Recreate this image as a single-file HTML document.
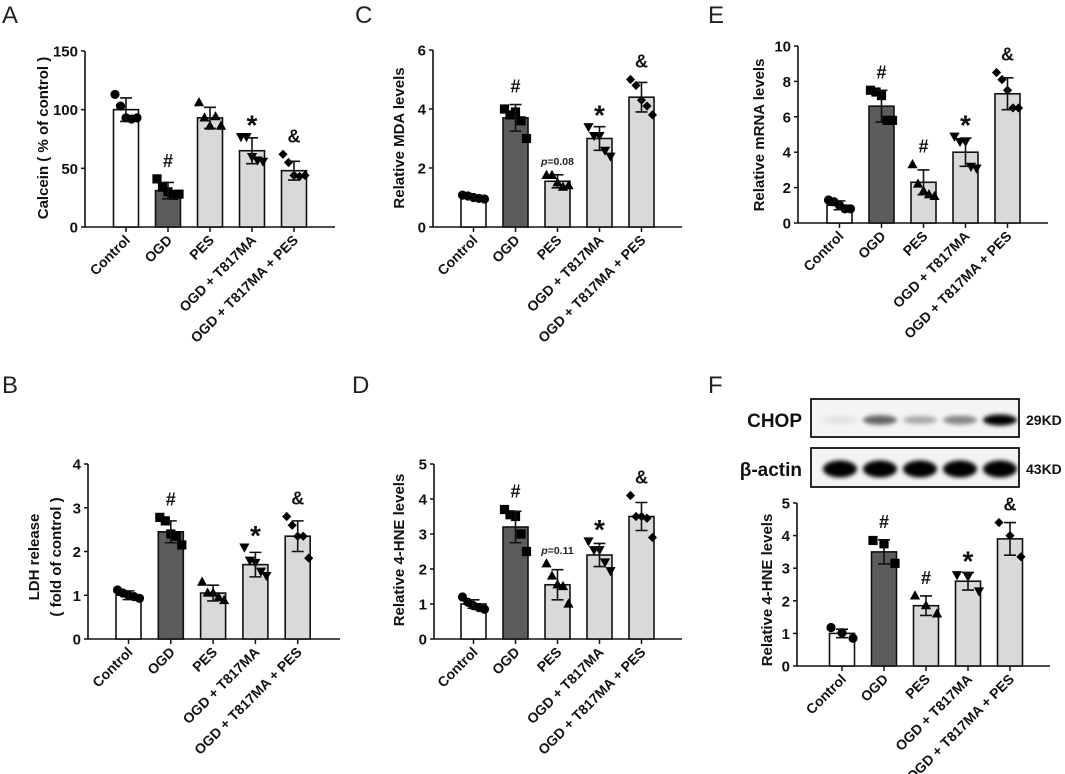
<!DOCTYPE html>
<html><head><meta charset="utf-8"><style>
body{margin:0;background:#fff}
svg{display:block;font-family:"Liberation Sans",Arial,sans-serif}
.t{font-weight:bold;font-size:15px;fill:#111}
.ti{font-weight:bold;font-size:15px;fill:#111}
.xl{font-weight:bold;font-size:14px;fill:#111}
.pl{font-size:24px;fill:#222}
</style></head><body>
<svg id="fig" width="1065" height="774" viewBox="0 0 1065 774" xmlns="http://www.w3.org/2000/svg">
<defs><filter id="blur" x="-50%" y="-50%" width="200%" height="200%"><feGaussianBlur stdDeviation="2.2"/></filter></defs>
</svg>
<script>
const categories = ["Control","OGD","PES","OGD + T817MA","OGD + T817MA + PES"];
const aMeans = [100,31,93,65,48];
const aSd = [10,7,9,11,8];
const aPts = [[113,103,93,92,93],[41,34,30,27,28],[106,93,86,94,86],[77,77,60,57,56],[62,55,44,43,44]];
const aTicks = [0,50,100,150];
const aMarks = ["","#","","*","&"];
const bMeans = [1.0,2.45,1.05,1.7,2.35];
const bSd = [0.1,0.25,0.18,0.28,0.35];
const bPts = [[1.12,1.05,1.0,0.97,0.93],[2.78,2.7,2.4,2.35,2.15],[1.3,1.05,1.05,0.95,0.88],[2.1,1.8,1.75,1.55,1.45],[2.8,2.6,2.35,2.35,1.85]];
const bTicks = [0,1,2,3,4];
const bMarks = ["","#","","*","&"];
const cMeans = [1.0,3.7,1.55,3.0,4.4];
const cSd = [0.07,0.45,0.22,0.4,0.5];
const cPts = [[1.08,1.05,1.0,0.97,0.95],[4.0,3.8,3.9,3.6,3.0],[1.75,1.75,1.5,1.35,1.4],[3.4,3.1,3.1,2.6,2.4],[5.0,4.8,4.3,4.1,3.8]];
const cTicks = [0,2,4,6];
const cMarks = ["","#","p=0.08","*","&"];
const dMeans = [1.0,3.2,1.55,2.4,3.5];
const dSd = [0.12,0.45,0.43,0.33,0.4];
const dPts = [[1.2,1.05,0.95,0.9,0.85],[3.7,3.55,3.5,3.0,2.5],[2.15,1.8,1.55,1.5,1.0],[2.8,2.55,2.55,2.2,1.95],[4.1,3.5,3.5,3.45,2.9]];
const dTicks = [0,1,2,3,4,5];
const dMarks = ["","#","p=0.11","*","&"];
const eMeans = [1.0,6.6,2.3,4.0,7.3];
const eSd = [0.25,0.9,0.7,0.8,0.9];
const ePts = [[1.3,1.2,1.0,0.8,0.8],[7.5,7.4,7.2,5.8,5.8],[3.3,2.2,1.8,1.6,1.5],[4.9,4.6,4.6,3.2,3.1],[8.5,8.1,7.5,6.5,6.5]];
const eTicks = [0,2,4,6,8,10];
const eMarks = ["","#","#","*","&"];
const fMeans = [1.0,3.5,1.85,2.6,3.9];
const fSd = [0.13,0.37,0.3,0.27,0.5];
const fPts = [[1.18,1.02,0.85],[3.85,3.75,3.15],[2.15,1.85,1.6],[2.8,2.75,2.3],[4.4,4.0,3.35]];
const fTicks = [0,1,2,3,4,5];
const fMarks = ["","#","#","*","&"];
const chopIntensity = [0.08,0.6,0.3,0.45,1.0];
const actinIntensity = [1,1,1,1,1];

const NS="http://www.w3.org/2000/svg";
const svg=document.getElementById('fig');
function mk(tag,attrs,parent,text){const e=document.createElementNS(NS,tag);for(const k in attrs)e.setAttribute(k,attrs[k]);if(text!==undefined)e.textContent=text;(parent||svg).appendChild(e);return e;}
const fills=["#ffffff","#5c5c5c","#d9d9d9","#d9d9d9","#d9d9d9"];
function marker(g,shape,x,y){
  const r=4.6;let e;
  if(shape===0)e=mk('circle',{cx:x,cy:y,r:r,fill:'#000'},g);
  else if(shape===1)e=mk('rect',{x:x-r,y:y-r,width:2*r,height:2*r,fill:'#000'},g);
  else if(shape===2)e=mk('polygon',{points:`${x},${y-r-1} ${x-r-0.5},${y+r-1} ${x+r+0.5},${y+r-1}`,fill:'#000'},g);
  else if(shape===3)e=mk('polygon',{points:`${x},${y+r+1} ${x-r-0.5},${y-r+1} ${x+r+0.5},${y-r+1}`,fill:'#000'},g);
  else e=mk('polygon',{points:`${x},${y-r} ${x-r},${y} ${x},${y+r} ${x+r},${y}`,fill:'#000'},g);
  
  
}
function panel(o){
  const g=mk('g',{},svg);
  
  
  const max=o.ticks[o.ticks.length-1];
  const ys=v=>o.y0-(v/max)*(o.y0-o.yTop);
  const xs=i=>o.c0+i*o.step;
  const ax=mk('line',{x1:o.ax,y1:o.yTop,x2:o.ax,y2:o.y0,stroke:'#111','stroke-width':1.6},g);
  
  const xa=mk('line',{x1:o.ax,y1:o.y0,x2:o.xEnd,y2:o.y0,stroke:'#111','stroke-width':1.6},g);
  
  o.ticks.forEach(t=>{
    mk('line',{x1:o.ax-4,y1:ys(t),x2:o.ax,y2:ys(t),stroke:'#111','stroke-width':1.5},g);
    const tl=mk('text',{x:o.ax-7,y:ys(t)+5.5,'text-anchor':'end',class:'t'},g,String(t));
    
  });
  categories.forEach((c,i)=>{
    const cx=xs(i);
    mk('line',{x1:cx,y1:o.y0,x2:cx,y2:o.y0+5,stroke:'#111','stroke-width':1.5},g);
    const b=mk('rect',{x:cx-12.5,y:ys(o.means[i]),width:25,height:o.y0-ys(o.means[i]),fill:fills[i],stroke:'#111','stroke-width':1.6},g);
    
    const pts=o.pts[i];const n=pts.length;
    pts.forEach((v,j)=>{const off=n===1?0:-11+22*j/(n-1);marker(g,i,cx+off,ys(v));});
    const hi=ys(o.means[i]+o.sd[i]),lo=ys(o.means[i]-o.sd[i]);
    const eb=mk('path',{d:`M${cx},${hi}V${lo}M${cx-6},${hi}H${cx+6}M${cx-6},${lo}H${cx+6}`,stroke:'#111','stroke-width':1.6,fill:'none'},g);
    
    const m=o.marks[i];
    if(m){
      const top=ys(Math.max(o.means[i]+o.sd[i],Math.max(...pts)));
      let a;
      if(m.startsWith('p=')){a=mk('text',{x:cx,y:top-10,'text-anchor':'middle','font-size':'10.5px','font-weight':'bold',fill:'#222'},g);
        mk('tspan',{'font-style':'italic'},a,'p');mk('tspan',{},a,m.slice(1));}
      else a=mk('text',{x:cx,y:top-(m==='*'?2:12),'text-anchor':'middle','font-weight':'bold','font-size':m==='*'?'28px':'18px',fill:'#111'},g,m);
      
    }
    const xl=mk('text',{x:0,y:0,'text-anchor':'end',class:'xl',transform:`translate(${cx+5},${o.y0+14}) rotate(-45)`},g,c);
    
  });
  const tx=o.titleX,ty=o.titleY;
  o.title.forEach((tt,k)=>{
    const te=mk('text',{x:0,y:0,'text-anchor':'middle',class:'ti',transform:`translate(${tx+k*22},${ty}) rotate(-90)`},g,tt);
    
  });
  const pl=mk('text',{x:o.lx,y:o.ly,class:'pl'},g,o.letter);
  
}
panel({name:'panel-a',letter:'A',lx:2,ly:23,ax:85,yTop:51,y0:227,xEnd:335,c0:126,step:42,ticks:aTicks,means:aMeans,sd:aSd,pts:aPts,marks:aMarks,title:['Calcein ( % of control )'],titleX:48,titleY:138});
panel({name:'panel-c',letter:'C',lx:355,ly:23,ax:433,yTop:50,y0:227,xEnd:682,c0:473.5,step:42,ticks:cTicks,means:cMeans,sd:cSd,pts:cPts,marks:cMarks,title:['Relative MDA levels'],titleX:404,titleY:138});
panel({name:'panel-e',letter:'E',lx:708,ly:23,ax:798,yTop:46,y0:223,xEnd:1048,c0:839.5,step:42,ticks:eTicks,means:eMeans,sd:eSd,pts:ePts,marks:eMarks,title:['Relative mRNA levels'],titleX:764,titleY:135});
panel({name:'panel-b',letter:'B',lx:2,ly:393,ax:88,yTop:464,y0:639,xEnd:340,c0:128.5,step:42.3,ticks:bTicks,means:bMeans,sd:bSd,pts:bPts,marks:bMarks,title:['LDH release','( fold of control )'],titleX:39,titleY:557});
panel({name:'panel-d',letter:'D',lx:352,ly:393,ax:434,yTop:464,y0:639,xEnd:682,c0:473.5,step:42,ticks:dTicks,means:dMeans,sd:dSd,pts:dPts,marks:dMarks,title:['Relative 4-HNE levels'],titleX:404,titleY:550});
panel({name:'panel-f',letter:'F',lx:708,ly:393,ax:797,yTop:503,y0:666,xEnd:1050,c0:842,step:42,ticks:fTicks,means:fMeans,sd:fSd,pts:fPts,marks:fMarks,title:['Relative 4-HNE levels'],titleX:772,titleY:590});

const wb=mk('g',{},svg);


[[399,437,chopIntensity,420,'CHOP','29KD',7],[448,487,actinIntensity,469,'β-actin','43KD',13]].forEach(r=>{
  const bx=mk('rect',{x:811,y:r[0],width:208,height:r[1]-r[0],fill:'#f4f4f4',stroke:'#111','stroke-width':1.8},wb);
  
  r[2].forEach((v,i)=>{
    const e=mk('ellipse',{cx:840+i*40,cy:r[3],rx:17,ry:r[6]/2+v*2,fill:'#000','fill-opacity':v,filter:'url(#blur)'},wb);
    
  });
  const l=mk('text',{x:802,y:r[3]+7,'text-anchor':'end','font-weight':'bold','font-size':'19px',fill:'#111'},wb,r[4]);
  
  const k=mk('text',{x:1026,y:r[3]+5,'font-weight':'bold','font-size':'14px',fill:'#111'},wb,r[5]);
  
});
</script>
</body></html>
